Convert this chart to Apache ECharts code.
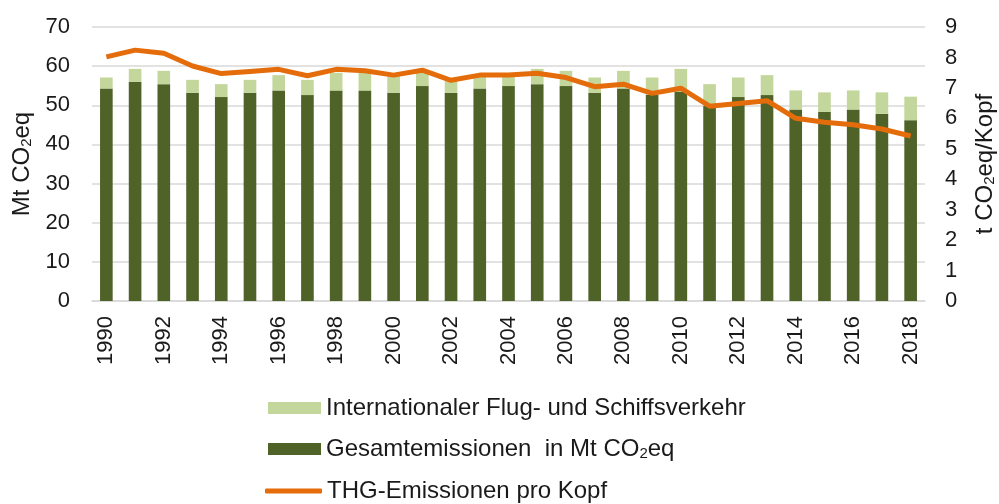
<!DOCTYPE html>
<html lang="de">
<head>
    <meta charset="UTF-8">
    <title>THG-Emissionen</title>
    <script src="https://cdn.jsdelivr.net/npm/echarts@6/dist/echarts.min.js"></script>
    <style>
        html, body { margin: 0; padding: 0; background: #fff; }
        #chart { width: 999px; height: 504px; }
    </style>
</head>
<body>
<div id="chart"></div>
<script>
    const years = ['1990','1991','1992','1993','1994','1995','1996','1997','1998','1999',
        '2000','2001','2002','2003','2004','2005','2006','2007','2008','2009',
        '2010','2011','2012','2013','2014','2015','2016','2017','2018'];
    // Gesamtemissionen in Mt CO2eq (dunkelgruen)
    const gesamt = [54.3, 56.0, 55.4, 53.2, 52.1, 53.2, 53.8, 52.6, 53.8, 53.8,
        53.2, 54.9, 53.2, 54.3, 54.9, 55.4, 54.9, 53.2, 54.3, 52.7,
        53.5, 49.8, 52.1, 52.6, 48.9, 48.3, 48.9, 47.8, 46.2];
    // Internationaler Flug- und Schiffsverkehr (hellgruen, oben drauf)
    const international = [2.8, 3.3, 3.4, 3.3, 3.3, 3.3, 3.9, 3.9, 4.5, 4.5,
        4.4, 3.6, 3.3, 3.0, 2.6, 3.9, 3.9, 3.9, 4.5, 4.4,
        5.8, 5.6, 5.0, 5.1, 4.9, 5.0, 4.9, 5.5, 6.0];
    // THG-Emissionen pro Kopf in t CO2eq
    const proKopf = [8.02, 8.24, 8.14, 7.72, 7.47, 7.54, 7.61, 7.40, 7.61, 7.56,
        7.42, 7.58, 7.25, 7.42, 7.42, 7.48, 7.34, 7.04, 7.12, 6.82,
        6.99, 6.40, 6.49, 6.58, 6.00, 5.87, 5.79, 5.65, 5.42];

    const nameInt = 'Internationaler Flug- und Schiffsverkehr';
    const nameGes = 'Gesamtemissionen  in Mt CO2eq';
    const nameKopf = 'THG-Emissionen pro Kopf';

    const textColor = '#1a1a1a';
    const font = 'Liberation Sans, Arial, sans-serif';
    const rich = {
        a: { fontSize: 24, fontFamily: font, color: textColor },
        s: { fontSize: 15, fontFamily: font, color: textColor, verticalAlign: 'bottom', padding: [9, 0, 0, 0] }
    };
    const legendText = { fontSize: 24, color: textColor, rich: rich };

    const option = {
        animation: false,
        textStyle: { fontFamily: font, color: textColor },
        grid: { left: 92, right: 74, top: 27, bottom: 203, containLabel: false, outerBoundsMode: 'none' },
        legend: [{
            orient: 'vertical',
            left: 263,
            top: 391,
            icon: 'rect',
            itemWidth: 53,
            itemHeight: 12,
            itemGap: 17,
            itemStyle: { borderWidth: 0 },
            data: [nameInt, nameGes],
            textStyle: legendText,
            formatter: function (n) {
                if (n === nameGes) return '{a|Gesamtemissionen  in Mt CO}{s|2}{a|eq}';
                return '{a|' + n + '}';
            }
        }, {
            orient: 'vertical',
            left: 260,
            top: 474,
            icon: 'roundRect',
            itemWidth: 57,
            itemHeight: 5,
            data: [nameKopf],
            textStyle: legendText,
            formatter: '{a|{name}}'
        }],
        xAxis: {
            type: 'category',
            data: years,
            axisLine: { lineStyle: { color: '#d9d9d9', width: 1.5 } },
            axisTick: { show: false },
            axisLabel: { rotate: 90, interval: 1, fontSize: 22, color: textColor, margin: 15 }
        },
        yAxis: [{
            type: 'value',
            min: 0, max: 70, interval: 10,
            name: '{a|Mt CO}{s|2}{a|eq}',
            nameLocation: 'middle',
            nameRotate: 90,
            nameGap: 56,
            nameTextStyle: { rich: rich },
            axisLine: { show: false },
            axisTick: { show: false },
            axisLabel: { fontSize: 22, color: textColor, margin: 22 },
            splitLine: { lineStyle: { color: '#d9d9d9', width: 1.5 } }
        }, {
            type: 'value',
            min: 0, max: 9, interval: 1,
            name: '{a|t CO}{s|2}{a|eq/Kopf}',
            nameLocation: 'middle',
            nameRotate: 90,
            nameGap: 48,
            nameTextStyle: { rich: rich },
            axisLine: { show: false },
            axisTick: { show: false },
            axisLabel: { fontSize: 22, color: textColor, margin: 20 },
            splitLine: { show: false }
        }],
        series: [{
            name: nameGes,
            type: 'bar',
            stack: 'total',
            barWidth: '44%',
            data: gesamt,
            itemStyle: { color: '#4f6228' }
        }, {
            name: nameInt,
            type: 'bar',
            stack: 'total',
            data: international,
            itemStyle: { color: '#c3d69b' }
        }, {
            name: nameKopf,
            type: 'line',
            yAxisIndex: 1,
            data: proKopf,
            symbol: 'none',
            lineStyle: { color: '#e46c0a', width: 5 },
            itemStyle: { color: '#e46c0a' }
        }]
    };

    const chart = echarts.init(document.getElementById('chart'));
    chart.setOption(option);
</script>
</body>
</html>
